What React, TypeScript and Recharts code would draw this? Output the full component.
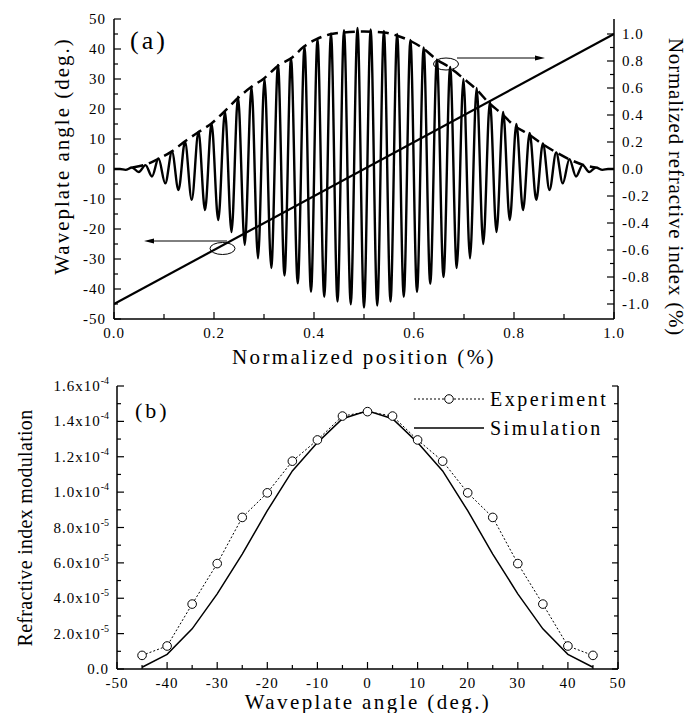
import React from 'react';
import { LineChart, Line, XAxis, YAxis, ReferenceLine, ReferenceDot } from 'recharts';

const FONT = '"Liberation Serif", "Times New Roman", serif';

// ---- panel (a) ----
const posTicks = [0, 0.1, 0.2, 0.3, 0.4, 0.5, 0.6, 0.7, 0.8, 0.9, 1.0];
const angleTicks = [-50, -45, -40, -35, -30, -25, -20, -15, -10, -5, 0, 5, 10, 15, 20, 25, 30, 35, 40, 45, 50];
const indexTicks = [-1.0, -0.9, -0.8, -0.7, -0.6, -0.5, -0.4, -0.3, -0.2, -0.1, 0, 0.1, 0.2, 0.3, 0.4, 0.5, 0.6, 0.7, 0.8, 0.9, 1.0];

// extrema of the modulated profile
const sigX = [
  0, 0.012, 0.023, 0.036, 0.0495, 0.063, 0.076, 0.089, 0.1025, 0.116, 0.129, 0.142, 0.1555, 0.169, 0.182,
  0.195, 0.2085, 0.222, 0.235, 0.248, 0.2615, 0.275, 0.288, 0.301, 0.3145, 0.328, 0.341, 0.354, 0.3675,
  0.381, 0.394, 0.407, 0.4205, 0.434, 0.447, 0.46, 0.4735, 0.487, 0.5, 0.5133, 0.5265, 0.5398, 0.553,
  0.5663, 0.5795, 0.5928, 0.606, 0.6193, 0.6325, 0.6458, 0.659, 0.6723, 0.6855, 0.6988, 0.712, 0.7253,
  0.7385, 0.7518, 0.765, 0.7783, 0.7915, 0.8048, 0.818, 0.8313, 0.8445, 0.8578, 0.871, 0.8843, 0.8975,
  0.9108, 0.924, 0.9373, 0.9505, 0.9638, 0.977, 0.988, 1,
];
const sigY = [
  0, 0, -0.3, 0.5, -1, 1.3, -2.5, 3.5, -4.8, 5.8, -7, 9.1, -10.3, 12.4, -13.7,
  15.2, -17, 19.1, -21, 24.1, -25.3, 27.4, -29.8, 30.2, -33, 34.7, -35.5, 37, -38.1,
  40.8, -40.9, 43.3, -42.6, 45.2, -44.2, 46.3, -45.1, 47, -46.2, 46.5, -45.5, 46, -44.2,
  45, -42.6, 43, -41, 40.5, -38.3, 36.5, -36, 34, -33, 30, -29.8, 27,
  -25, 22.5, -21, 19, -17, 15, -13.7, 12, -10.3, 8.5, -7, 5.5, -4.8,
  3.3, -2.5, 1.3, -1, 0.5, -0.3, 0, 0,
];

// dashed envelope
const envX = [0.037, 0.06, 0.09, 0.115, 0.14, 0.17, 0.195, 0.22, 0.25, 0.275, 0.3, 0.33, 0.355, 0.38, 0.405, 0.435, 0.46, 0.5, 0.54, 0.565, 0.595, 0.62, 0.645, 0.67, 0.7, 0.725, 0.75, 0.775, 0.8, 0.83, 0.855, 0.885, 0.91, 0.94, 0.963];
const envY = [0.5, 1.3, 3.5, 5.8, 9, 12.4, 15.2, 19, 24, 27.4, 30.2, 34.7, 37, 40.8, 43.3, 45, 45.5, 45.8, 45.5, 44.5, 42.5, 40, 36.5, 34, 30, 26.5, 22, 18.5, 14.5, 11.5, 8.5, 5.5, 3.3, 1.3, 0.5];

// waveplate angle ramp
const rampX = [0, 1];
const rampY = [-45, 45];

// ---- panel (b) ----
const wpTicks = [-50, -45, -40, -35, -30, -25, -20, -15, -10, -5, 0, 5, 10, 15, 20, 25, 30, 35, 40, 45, 50];
const modTicks = [0, 1e-5, 2e-5, 3e-5, 4e-5, 5e-5, 6e-5, 7e-5, 8e-5, 9e-5, 1e-4, 1.1e-4, 1.2e-4, 1.3e-4, 1.4e-4, 1.5e-4, 1.6e-4];
const expAngle = [-45, -40, -35, -30, -25, -20, -15, -10, -5, 0, 5, 10, 15, 20, 25, 30, 35, 40, 45];
const expMod = [0.77, 1.3, 3.67, 5.96, 8.57, 9.96, 11.75, 12.95, 14.3, 14.55, 14.3, 12.95, 11.75, 9.96, 8.57, 5.96, 3.67, 1.3, 0.77]; // x1e-5
const simAngle = [-45, -40, -35, -30, -25, -20, -15, -10, -5, 0, 5, 10, 15, 20, 25, 30, 35, 40, 45];
const simMod = [0.1, 0.83, 2.27, 4.25, 6.5, 8.95, 11.2, 12.8, 14.15, 14.6, 14.15, 12.8, 11.2, 8.95, 6.5, 4.25, 2.27, 0.83, 0.1]; // x1e-5

const signalData = sigX.map((x, i) => ({ x, y: sigY[i] }));
const envelopeData = envX.map((x, i) => ({ x, y: envY[i] }));
const rampData = rampX.map((x, i) => ({ x, y: rampY[i] }));
const expData = expAngle.map((x, i) => ({ x, y: expMod[i] * 1e-5 }));
const simData = simAngle.map((x, i) => ({ x, y: simMod[i] * 1e-5 }));

const AXIS = { stroke: '#000', strokeWidth: 1.5 };
const TICK_TEXT = { style: { fontFamily: FONT, fontSize: 15, letterSpacing: 1 }, fill: '#000' };

type Side = 'left' | 'right' | 'top' | 'bottom';

// inward ticks, labels outside
function tickMaker(
  side: Side,
  isMajor: (v: number) => boolean,
  label?: (v: number) => React.ReactNode,
  long = 7,
  short = 4
) {
  return (props: any) => {
    const { x, y, payload } = props;
    const v = payload.value as number;
    const big = isMajor(v);
    const len = big ? long : short;
    let line: React.ReactNode = null;
    let text: React.ReactNode = null;
    if (side === 'left') {
      line = <line x1={x} y1={y} x2={x + len} y2={y} stroke="#000" strokeWidth={1.2} />;
      if (label && big) text = <text x={x - 8} y={y + 5} textAnchor="end" {...TICK_TEXT}>{label(v)}</text>;
    } else if (side === 'right') {
      line = <line x1={x} y1={y} x2={x - len} y2={y} stroke="#000" strokeWidth={1.2} />;
      if (label && big) text = <text x={x + 8} y={y + 5} textAnchor="start" {...TICK_TEXT}>{label(v)}</text>;
    } else if (side === 'bottom') {
      line = <line x1={x} y1={y} x2={x} y2={y - len} stroke="#000" strokeWidth={1.2} />;
      if (label && big) text = <text x={x} y={y + 19} textAnchor="middle" {...TICK_TEXT}>{label(v)}</text>;
    } else {
      line = <line x1={x} y1={y} x2={x} y2={y + len} stroke="#000" strokeWidth={1.2} />;
    }
    return (
      <g>
        {line}
        {text}
      </g>
    );
  };
}

const even10 = (v: number) => Math.round(v * 10) % 2 === 0;
const mult10 = (v: number) => Math.round(v) % 10 === 0;
const evenE5 = (v: number) => Math.round(v / 1e-5) % 2 === 0;
const always = () => true;

function sciLabel(v: number) {
  if (Math.abs(v) < 1e-9) return '0.0';
  const exp = v >= 0.99e-4 ? -4 : -5;
  const m = (v / Math.pow(10, exp)).toFixed(1);
  return [
    <tspan key="m">{m}x10</tspan>,
    <tspan key="e" dy={-7} style={{ fontSize: 10, letterSpacing: 0 }}>{exp}</tspan>,
  ];
}

const ellipseShape = (props: any) => (
  <ellipse cx={props.cx} cy={props.cy} rx={12.5} ry={6} fill="none" stroke="#000" strokeWidth={1} />
);
const arrowLeft = (props: any) => (
  <polygon points={`${props.cx},${props.cy} ${props.cx + 10},${props.cy - 2.5} ${props.cx + 10},${props.cy + 2.5}`} fill="#000" />
);
const arrowRight = (props: any) => (
  <polygon points={`${props.cx},${props.cy} ${props.cx - 10},${props.cy - 2.5} ${props.cx - 10},${props.cy + 2.5}`} fill="#000" />
);

function PanelA() {
  return (
    <LineChart width={690} height={375} margin={{ top: 19, right: 0, bottom: 0, left: 0 }}>
      <XAxis
        xAxisId="b" type="number" dataKey="x" domain={[0, 1]} ticks={posTicks} interval={0} height={56}
        tickSize={0} tickMargin={0} tickLine={false} axisLine={AXIS} allowDataOverflow
        tick={tickMaker('bottom', even10, (v) => v.toFixed(1), 7, 5)}
      />
      <XAxis
        xAxisId="t" orientation="top" type="number" dataKey="x" domain={[0, 1]} ticks={posTicks} interval={0} height={0}
        tickSize={0} tickMargin={0} tickLine={false} axisLine={AXIS} allowDataOverflow
        tick={tickMaker('top', always, undefined, 6, 6)}
      />
      <YAxis
        yAxisId="l" type="number" domain={[-50, 50]} ticks={angleTicks} interval={0} width={114}
        tickSize={0} tickMargin={0} tickLine={false} axisLine={AXIS} allowDataOverflow
        tick={tickMaker('left', mult10, (v) => String(v), 7, 4)}
      />
      <YAxis
        yAxisId="r" orientation="right" type="number" domain={[-1.1111, 1.1111]} ticks={indexTicks} interval={0} width={76}
        tickSize={0} tickMargin={0} tickLine={false} axisLine={AXIS} allowDataOverflow
        tick={tickMaker('right', even10, (v) => v.toFixed(1), 7, 4)}
      />
      <Line xAxisId="b" yAxisId="l" data={signalData} dataKey="y" type="monotone" stroke="#000" strokeWidth={2.4} dot={false} isAnimationActive={false} />
      <Line xAxisId="b" yAxisId="l" data={envelopeData} dataKey="y" type="monotone" stroke="#000" strokeWidth={2.5} strokeDasharray="11 6" dot={false} isAnimationActive={false} />
      <Line xAxisId="b" yAxisId="l" data={rampData} dataKey="y" type="linear" stroke="#000" strokeWidth={2.2} dot={false} isAnimationActive={false} />

      <ReferenceLine xAxisId="b" yAxisId="l" segment={[{ x: 0.226, y: -24 }, { x: 0.075, y: -24 }]} stroke="#000" strokeWidth={1} />
      <ReferenceDot xAxisId="b" yAxisId="l" x={0.06} y={-24} shape={arrowLeft} />
      <ReferenceDot xAxisId="b" yAxisId="l" x={0.217} y={-26.5} shape={ellipseShape} />

      <ReferenceLine xAxisId="b" yAxisId="l" segment={[{ x: 0.686, y: 37 }, { x: 0.845, y: 37 }]} stroke="#000" strokeWidth={1} />
      <ReferenceDot xAxisId="b" yAxisId="l" x={0.862} y={37} shape={arrowRight} />
      <ReferenceDot xAxisId="b" yAxisId="l" x={0.664} y={35} shape={ellipseShape} />
    </LineChart>
  );
}

function PanelB() {
  return (
    <LineChart width={690} height={343} margin={{ top: 16, right: 0, bottom: 0, left: 0 }}>
      <XAxis
        xAxisId="b" type="number" dataKey="x" domain={[-50, 50]} ticks={wpTicks} interval={0} height={44}
        tickSize={0} tickMargin={0} tickLine={false} axisLine={AXIS} allowDataOverflow
        tick={tickMaker('bottom', mult10, (v) => String(v), 7, 4)}
      />
      <XAxis
        xAxisId="t" orientation="top" type="number" dataKey="x" domain={[-50, 50]} ticks={wpTicks} interval={0} height={0}
        tickSize={0} tickMargin={0} tickLine={false} axisLine={AXIS} allowDataOverflow
        tick={tickMaker('top', always, undefined, 5, 5)}
      />
      <YAxis
        yAxisId="l" type="number" domain={[0, 1.6e-4]} ticks={modTicks} interval={0} width={117}
        tickSize={0} tickMargin={0} tickLine={false} axisLine={AXIS} allowDataOverflow
        tick={tickMaker('left', evenE5, sciLabel, 7, 4)}
      />
      <YAxis
        yAxisId="r" orientation="right" type="number" domain={[0, 1.6e-4]} ticks={modTicks} interval={0} width={72}
        tickSize={0} tickMargin={0} tickLine={false} axisLine={AXIS} allowDataOverflow
        tick={tickMaker('right', evenE5, undefined, 6, 4)}
      />
      <Line xAxisId="b" yAxisId="l" data={simData} dataKey="y" type="linear" stroke="#000" strokeWidth={1.5} dot={false} isAnimationActive={false} />
      <Line
        xAxisId="b" yAxisId="l" data={expData} dataKey="y" type="linear" stroke="#000" strokeWidth={1}
        strokeDasharray="2 2" dot={{ r: 4.3, fill: '#fff', stroke: '#000', strokeWidth: 1, strokeDasharray: '' }}
        isAnimationActive={false}
      />
    </LineChart>
  );
}

const t = (size: number, spacing: number) => ({ style: { fontFamily: FONT, fontSize: size, letterSpacing: spacing }, fill: '#000' });

export default function App() {
  return (
    <div style={{ position: 'absolute', left: 0, top: 0, width: 690, height: 713, background: '#fff' }}>
      <div style={{ position: 'absolute', left: 0, top: 0 }}>
        <PanelA />
      </div>
      <div style={{ position: 'absolute', left: 0, top: 370 }}>
        <PanelB />
      </div>
      <svg width={690} height={713} style={{ position: 'absolute', left: 0, top: 0, pointerEvents: 'none' }}>
        {/* panel (a) titles */}
        <text x={130} y={49} {...t(26, 3)}>(a)</text>
        <text x={62} y={156} transform="rotate(-90 62 156)" textAnchor="middle" dominantBaseline="central" {...t(21, 2)}>
          Waveplate angle (deg.)
        </text>
        <text x={676} y={187} transform="rotate(90 676 187)" textAnchor="middle" dominantBaseline="central" {...t(21, 0.8)}>
          Normalized refractive index (%)
        </text>
        <text x={364} y={357} textAnchor="middle" dominantBaseline="central" {...t(21, 2.4)}>
          Normalized position (%)
        </text>

        {/* panel (b) titles */}
        <text x={135} y={418} {...t(22, 3)}>(b)</text>
        <text x={25} y={528} transform="rotate(-90 25 528)" textAnchor="middle" dominantBaseline="central" {...t(20, 0.3)}>
          Refractive index modulation
        </text>
        <text x={368} y={702} textAnchor="middle" dominantBaseline="central" {...t(21, 2.4)}>
          Waveplate angle (deg.)
        </text>

        {/* legend */}
        <line x1={414} y1={399} x2={484} y2={399} stroke="#000" strokeWidth={1} strokeDasharray="2 2" />
        <circle cx={449} cy={399} r={4.3} fill="#fff" stroke="#000" strokeWidth={1} />
        <text x={490} y={399} dominantBaseline="central" {...t(20, 2.5)}>Experiment</text>
        <line x1={414} y1={428} x2={484} y2={428} stroke="#000" strokeWidth={1.5} />
        <text x={490} y={428} dominantBaseline="central" {...t(20, 2.5)}>Simulation</text>
      </svg>
    </div>
  );
}
